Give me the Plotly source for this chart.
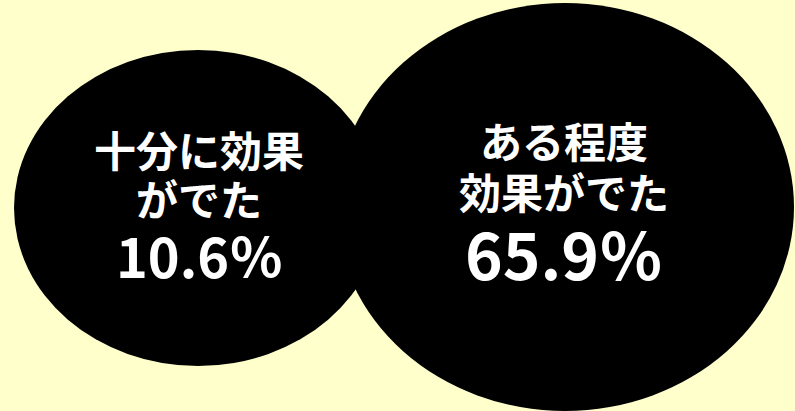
import plotly.graph_objects as go

# Survey answers shown as two overlapping bubbles
labels = [["十分に効果", "がでた"], ["ある程度", "効果がでた"]]
values = [10.6, 65.9]

W, H = 795, 411
BG = "#FFFFCC"
FONT = "Noto Sans CJK JP"

# bubble geometry in pixel space: (x0, y0, x1, y1)
bubbles = [(14, 50, 382, 366), (336, 3, 794, 411)]
# text anchors: centre x, y of each label line, y of percentage, percentage size
text_pos = [(199, [148, 197], 254, 54), (564, [139, 190], 252, 64)]

fig = go.Figure()

for (x0, y0, x1, y1) in bubbles:
    fig.add_shape(type="circle", xref="x", yref="y",
                  x0=x0, y0=y0, x1=x1, y1=y1,
                  fillcolor="#000000", line=dict(width=0), layer="below")

for lab, val, (cx, ys, yp, psize) in zip(labels, values, text_pos):
    for line, y in zip(lab, ys):
        fig.add_annotation(x=cx, y=y, text=line, showarrow=False,
                           xanchor="center", yanchor="middle",
                           font=dict(family=FONT, size=42, color="white",
                                     weight="bold"))
    fig.add_annotation(x=cx, y=yp, text=f"{val:.1f}％", showarrow=False,
                       xanchor="center", yanchor="middle",
                       font=dict(family=FONT, size=psize, color="white",
                                 weight="bold"))

fig.update_layout(
    width=W, height=H,
    margin=dict(l=0, r=0, t=0, b=0),
    paper_bgcolor=BG, plot_bgcolor=BG,
    xaxis=dict(range=[0, W], visible=False, fixedrange=True),
    yaxis=dict(range=[H, 0], visible=False, fixedrange=True),
    showlegend=False,
)

fig.write_html("out.html", config={"displayModeBar": False})
